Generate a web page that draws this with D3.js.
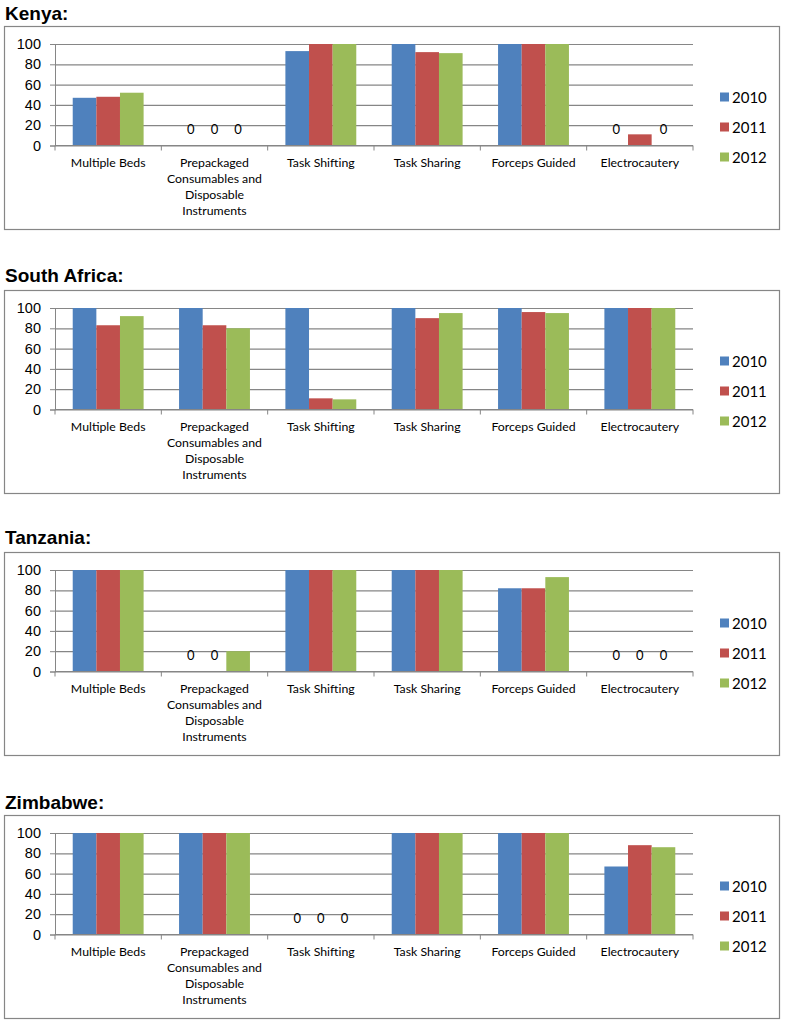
<!DOCTYPE html>
<html>
<head>
<meta charset="utf-8">
<script src="https://cdn.jsdelivr.net/npm/d3@7"></script>
<style>
  html, body { margin: 0; padding: 0; background: #fff; }
  svg { display: block; }
  .title { font-family: "Liberation Sans", Arial, sans-serif; font-weight: bold; font-size: 19px; fill: #000; }
  .ytick text { font-family: "Liberation Sans", Arial, sans-serif; font-size: 14.5px; fill: #000; }
  .cat { font-family: Lato, "Open Sans", sans-serif; font-size: 12.3px; fill: #000; }
  .zero { font-family: Lato, "Open Sans", sans-serif; font-size: 13px; fill: #000; }
  .legend text { font-family: Lato, "Open Sans", sans-serif; font-size: 15px; fill: #000; }
</style>
</head>
<body>
<svg id="chart" width="789" height="1024"></svg>
<script>
'use strict';

// ── Data ───────────────────────────────────────────────────────────────────
const CATEGORIES = [
  'Multiple Beds',
  'Prepackaged Consumables and Disposable Instruments',
  'Task Shifting',
  'Task Sharing',
  'Forceps Guided',
  'Electrocautery'
];
// wrapped the way the reference wraps them
const CAT_LINES = [
  ['Multiple Beds'],
  ['Prepackaged', 'Consumables and', 'Disposable', 'Instruments'],
  ['Task Shifting'],
  ['Task Sharing'],
  ['Forceps Guided'],
  ['Electrocautery']
];
const YEARS = ['2010', '2011', '2012'];
const Y_TICKS = [0, 20, 40, 60, 80, 100];

// one row per year, one value per category
const kenya       = [[47, 0, 93, 100, 100, 0], [48, 0, 100, 92, 100, 11], [52, 0, 100, 91, 100, 0]];
const southAfrica = [[100, 100, 100, 100, 100, 100], [83, 83, 11, 90, 96, 100], [92, 80, 10, 95, 95, 100]];
const tanzania    = [[100, 0, 100, 100, 82, 0], [100, 0, 100, 100, 82, 0], [100, 20, 100, 100, 93, 0]];
const zimbabwe    = [[100, 100, 0, 100, 100, 67], [100, 100, 0, 100, 100, 88], [100, 100, 0, 100, 100, 86]];

const COUNTRIES = ['Kenya:', 'South Africa:', 'Tanzania:', 'Zimbabwe:'];
const VALUES = [kenya, southAfrica, tanzania, zimbabwe];

const COLORS = ['#4f81bd', '#c0504d', '#9bbb59'];
const GRID = '#868686';

// ── Layout ─────────────────────────────────────────────────────────────────
const titleBase = [19.5, 282, 543.5, 808.5];
const boxTop    = [26, 290, 552, 815];
const BOX_L = 4.5, BOX_R = 779.5, BOX_H = 203;
const PLOT_L = 55, PLOT_R = 693;
const PLOT_T = 18, PLOT_B = 119.5;   // offsets from box top

const svg = d3.select('#chart');

const x0 = d3.scaleBand().domain(CATEGORIES).range([PLOT_L, PLOT_R]).padding(0);
const x1 = d3.scaleBand().domain(YEARS).range([0, x0.bandwidth()])
  .paddingInner(0).paddingOuter(0.75);

COUNTRIES.forEach((name, ci) => {
  const top = boxTop[ci];
  const data = VALUES[ci];

  svg.append('text')
    .attr('class', 'title')
    .attr('x', 5)
    .attr('y', titleBase[ci])
    .text(name);

  const g = svg.append('g').attr('transform', `translate(0,${top})`);

  g.append('rect')
    .attr('x', BOX_L).attr('y', 0.5)
    .attr('width', BOX_R - BOX_L).attr('height', BOX_H)
    .attr('fill', '#fff')
    .attr('stroke', GRID)
    .attr('stroke-width', 1.2);

  const y = d3.scaleLinear().domain([0, 100]).range([PLOT_B, PLOT_T]);

  // gridlines + y labels
  const yAxis = g.append('g').attr('class', 'ytick')
    .attr('transform', `translate(${PLOT_L},0)`)
    .call(d3.axisLeft(y).tickValues(Y_TICKS).tickSize(5).tickPadding(9));
  yAxis.select('.domain').attr('stroke', GRID);
  yAxis.selectAll('.tick line').attr('stroke', GRID);
  yAxis.selectAll('.tick').append('line')
    .attr('x1', 0).attr('x2', PLOT_R - PLOT_L)
    .attr('stroke', GRID).attr('stroke-width', 1.2);

  // bars
  YEARS.forEach((yr, yi) => {
    g.append('g')
      .attr('fill', COLORS[yi])
      .selectAll('rect')
      .data(data[yi].map((v, k) => ({ cat: CATEGORIES[k], v })))
      .join('rect')
      .attr('x', d => x0(d.cat) + x1(yr))
      .attr('width', x1.bandwidth())
      .attr('y', d => y(d.v))
      .attr('height', d => y(0) - y(d.v));

    // zero value labels
    g.append('g')
      .selectAll('text')
      .data(data[yi].map((v, k) => ({ cat: CATEGORIES[k], v })).filter(d => d.v === 0))
      .join('text')
      .attr('class', 'zero')
      .attr('text-anchor', 'middle')
      .attr('x', d => x0(d.cat) + x1(yr) + x1.bandwidth() / 2)
      .attr('y', y(0) - 11.5)
      .text('0');
  });

  // x axis with category-boundary ticks
  const xAxis = g.append('g').attr('transform', `translate(0,${y(0)})`);
  xAxis.append('line')
    .attr('x1', PLOT_L).attr('x2', PLOT_R)
    .attr('stroke', GRID).attr('stroke-width', 1.2);
  const bounds = CATEGORIES.map(c => x0(c)).concat([PLOT_R]);
  xAxis.selectAll('.xt')
    .data(bounds)
    .join('line')
    .attr('x1', d => d).attr('x2', d => d)
    .attr('y1', 0).attr('y2', 5)
    .attr('stroke', GRID);

  // category labels
  CATEGORIES.forEach((c, k) => {
    const t = g.append('text')
      .attr('class', 'cat')
      .attr('text-anchor', 'middle')
      .attr('x', x0(c) + x0.bandwidth() / 2)
      .attr('y', y(0) + 21.5);
    CAT_LINES[k].forEach((ln, li) => {
      t.append('tspan')
        .attr('x', x0(c) + x0.bandwidth() / 2)
        .attr('dy', li === 0 ? 0 : 16)
        .text(ln);
    });
  });

  // legend
  const leg = g.append('g').attr('class', 'legend');
  YEARS.forEach((yr, yi) => {
    const cy = 71 + yi * 30;
    leg.append('rect')
      .attr('x', 720).attr('y', cy - 4.5)
      .attr('width', 9).attr('height', 9)
      .attr('fill', COLORS[yi]);
    leg.append('text')
      .attr('x', 732).attr('y', cy + 5.5)
      .text(yr);
  });
});
</script>
</body>
</html>
